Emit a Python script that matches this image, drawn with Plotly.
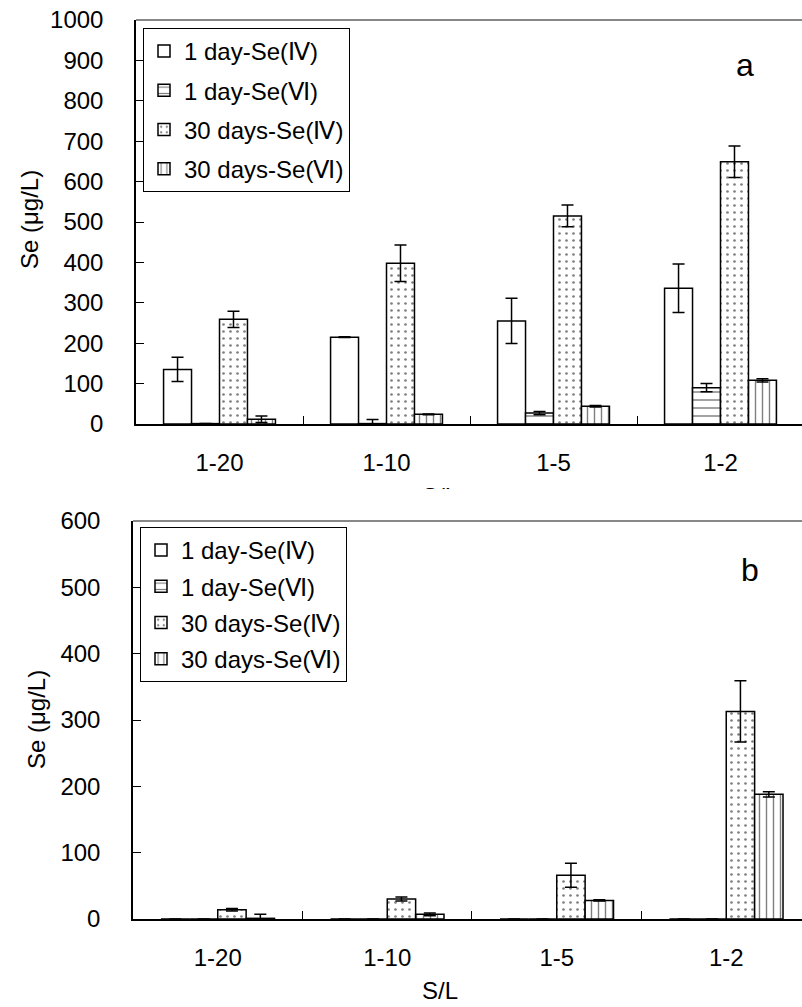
import plotly.graph_objects as go

W, H = 802, 1007
FONT = "Liberation Sans, Arial, sans-serif"
FS = 24

categories = ["1-20", "1-10", "1-5", "1-2"]
series_names = ["1 day-Se(Ⅳ)", "1 day-Se(Ⅵ)", "30 days-Se(Ⅳ)", "30 days-Se(Ⅵ)"]

# panel a
a_1d_se4 = [135, 215, 255, 336]
a_1d_se4_err = [30, 1, 56, 60]
a_1d_se6 = [1, 1, 27, 90]
a_1d_se6_err = [0, 10, 4, 10]
a_30d_se4 = [259, 398, 515, 649]
a_30d_se4_err = [20, 45, 27, 39]
a_30d_se6 = [12, 24, 44, 108]
a_30d_se6_err = [8, 1, 2, 4]

# panel b
b_1d_se4 = [0, 0, 0, 0]
b_1d_se4_err = [0, 0, 0, 0]
b_1d_se6 = [0, 0, 0, 0]
b_1d_se6_err = [0, 0, 0, 0]
b_30d_se4 = [14, 30, 66, 313]
b_30d_se4_err = [2, 3, 18, 46]
b_30d_se6 = [1, 7, 28, 188]
b_30d_se6_err = [6, 2, 1, 4]


def px_x(x):
    return x / W


def px_y(y):
    return 1 - y / H


patterns = [
    dict(shape=""),
    dict(shape="-", size=8, solidity=0.18, fgcolor="black", bgcolor="white"),
    dict(shape=".", size=7, solidity=0.12, fgcolor="black", bgcolor="white"),
    dict(shape="|", size=7, solidity=0.2, fgcolor="black", bgcolor="white"),
]

fig = go.Figure()

panel_a = [(a_1d_se4, a_1d_se4_err), (a_1d_se6, a_1d_se6_err),
           (a_30d_se4, a_30d_se4_err), (a_30d_se6, a_30d_se6_err)]
panel_b = [(b_1d_se4, b_1d_se4_err), (b_1d_se6, b_1d_se6_err),
           (b_30d_se4, b_30d_se4_err), (b_30d_se6, b_30d_se6_err)]

for panel, xa, ya, leg in [(panel_a, "x", "y", "legend"), (panel_b, "x2", "y2", "legend2")]:
    for i, (vals, errs) in enumerate(panel):
        fig.add_trace(go.Bar(
            x=categories, y=vals, name=series_names[i],
            xaxis=xa, yaxis=ya, legend=leg,
            legendgroup=f"{leg}-{i}",
            marker=dict(color="white", line=dict(color="black", width=1.5),
                        pattern=patterns[i]),
            error_y=dict(type="data", array=errs, visible=True,
                         color="black", thickness=1.5, width=6),
        ))

axis_common = dict(
    showline=True, linecolor="black", linewidth=1.5,
    ticks="inside", tickcolor="black", ticklen=8, tickwidth=1.2,
    showgrid=False, zeroline=False, automargin=False,
    tickfont=dict(family=FONT, size=FS, color="black"),
)

fig.update_layout(
    width=W, height=H,
    margin=dict(l=0, r=0, t=0, b=0, autoexpand=False),
    paper_bgcolor="white", plot_bgcolor="white",
    barmode="group", bargap=0.33, bargroupgap=0,
    font=dict(family=FONT, size=FS, color="black"),
    xaxis=dict(axis_common, type="category", anchor="y",
               domain=[px_x(136), 1], range=[-0.5, 3.488],
               tickson="boundaries", ticklabelstandoff=16),
    yaxis=dict(axis_common, anchor="x", domain=[px_y(424), px_y(20)],
               range=[0, 1000], dtick=100, ticklabelstandoff=26),
    xaxis2=dict(axis_common, type="category", anchor="y2",
                domain=[px_x(133), 1], range=[-0.5, 3.447],
                tickson="boundaries", ticklabelstandoff=16),
    yaxis2=dict(axis_common, anchor="x2", domain=[px_y(919), px_y(521)],
                range=[0, 600], dtick=100, ticklabelstandoff=26),
    legend=dict(x=px_x(143), y=px_y(28), xanchor="left", yanchor="top",
                bgcolor="white", bordercolor="black", borderwidth=1,
                font=dict(family=FONT, size=FS), tracegroupgap=5,
                traceorder="grouped"),
    legend2=dict(x=px_x(140), y=px_y(527), xanchor="left", yanchor="top",
                 bgcolor="white", bordercolor="black", borderwidth=1,
                 font=dict(family=FONT, size=FS), tracegroupgap=2,
                 traceorder="grouped"),
    showlegend=True,
)

# grey top border of each plot area
fig.add_shape(type="line", xref="paper", yref="paper",
              x0=px_x(136), x1=1, y0=px_y(20), y1=px_y(20),
              line=dict(color="#888888", width=2))
fig.add_shape(type="line", xref="paper", yref="paper",
              x0=px_x(133), x1=1, y0=px_y(521), y1=px_y(521),
              line=dict(color="#888888", width=2))

annotations = [
    dict(text="a", x=px_x(745), y=px_y(65), font=dict(size=32)),
    dict(text="b", x=px_x(750), y=px_y(570), font=dict(size=32)),
    dict(text="Se (μg/L)", x=px_x(30), y=px_y(220), textangle=-90),
    dict(text="Se (μg/L)", x=px_x(36), y=px_y(720), textangle=-90),
    dict(text="S/L", x=px_x(440), y=px_y(990)),
    # x-axis title of panel a, mostly hidden behind panel b's chart area
    dict(text="S/L", x=px_x(440), y=px_y(496)),
]
for a in annotations:
    a["font"] = dict(dict(family=FONT, size=FS, color="black"), **a.get("font", {}))
    fig.add_annotation(xref="paper", yref="paper", showarrow=False,
                       xanchor="center", yanchor="middle", **a)

# white chart-area background of panel b covering the lower part of that title
fig.add_annotation(xref="paper", yref="paper", showarrow=False,
                   x=px_x(440), y=px_y(489), xanchor="center", yanchor="top",
                   text="", width=120, height=25, bgcolor="white",
                   borderpad=0, borderwidth=0)

fig.write_html("out.html")
